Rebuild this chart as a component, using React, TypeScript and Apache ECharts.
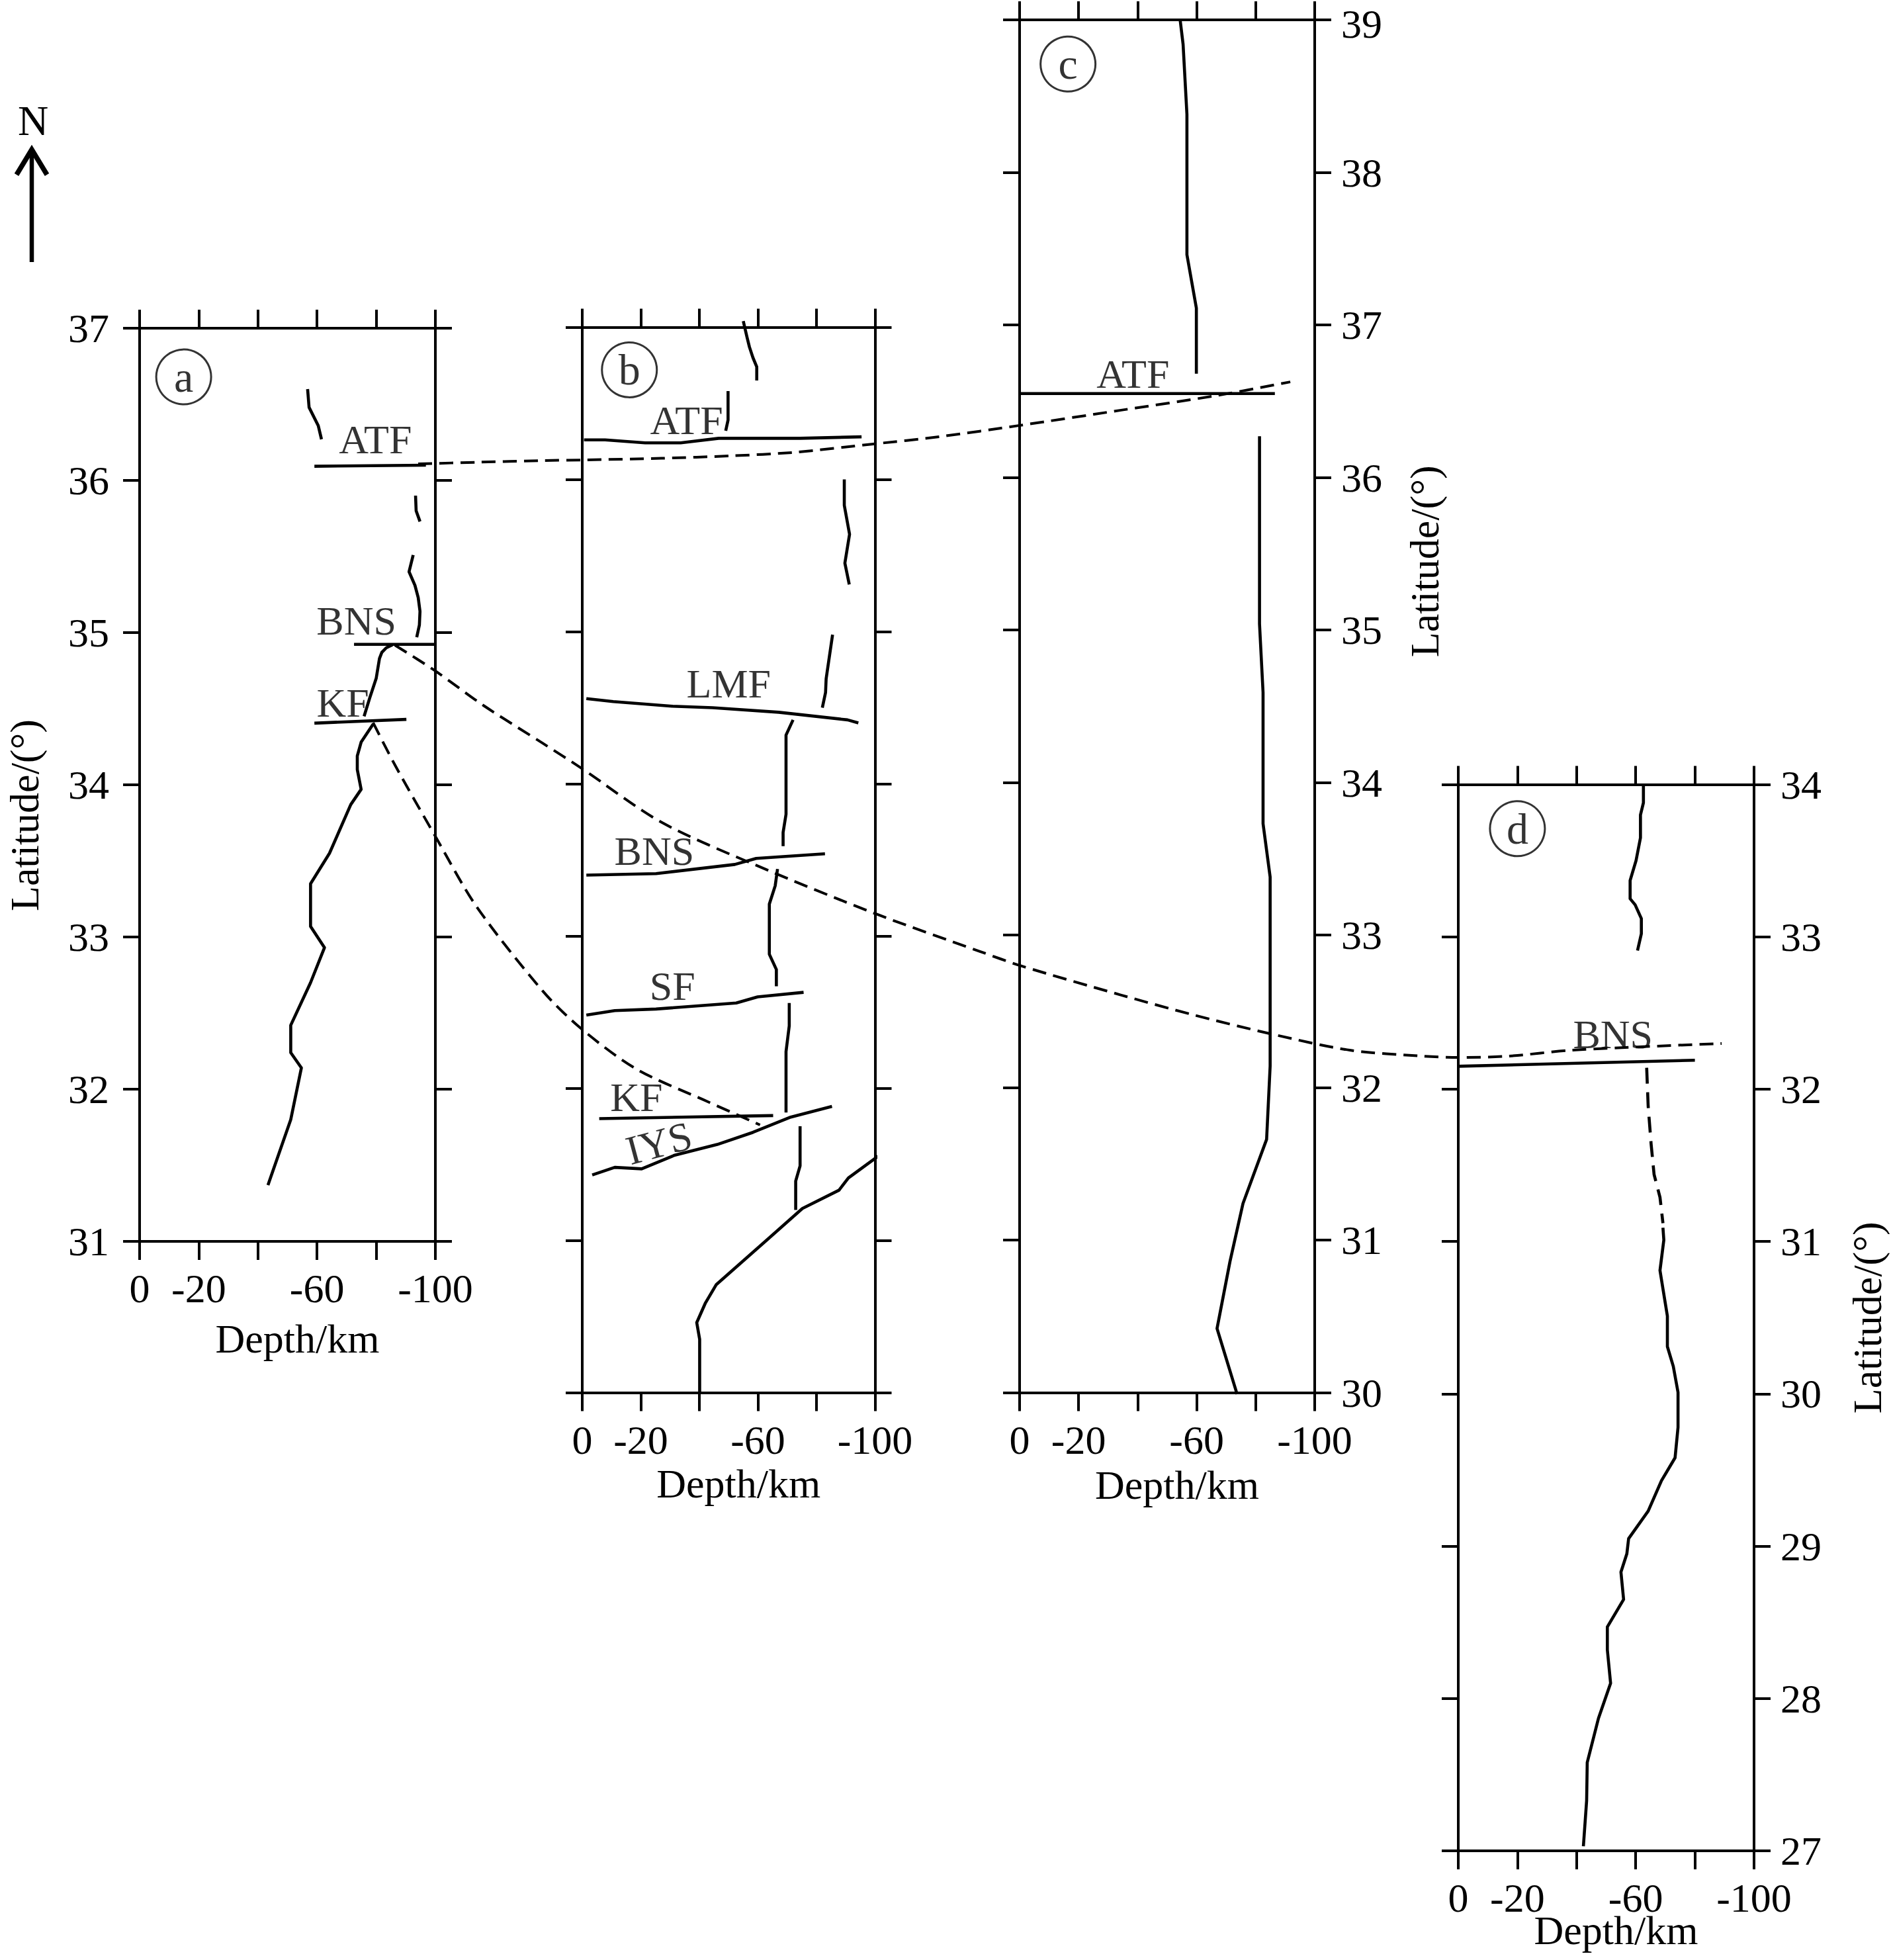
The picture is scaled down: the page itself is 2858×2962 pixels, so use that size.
import React, { useEffect, useRef } from 'react';
import * as echarts from 'echarts';

// ---------------- Data ----------------
const panelLetters = ['a', 'b', 'c', 'd'];
const latRanges: number[][] = [[31, 37], [30, 37], [30, 39], [27, 34]];
const depthAxisName = 'Depth/km';
const latAxisName = 'Latitude/(°)';
const hiddenDepthLabels = [-40, -80];
const letterPositions: number[][] = [[-14.9, 36.68], [-16.1, 36.72], [-16.4, 38.71], [-20.0, 33.71]];

// Panel a  [depth km, latitude]
const mohoA1 = [[-43.4, 31.37], [-51.1, 31.8], [-54.7, 32.14], [-51.1, 32.24], [-51.1, 32.42], [-57.8, 32.7], [-62.5, 32.93], [-57.8, 33.07], [-57.8, 33.35], [-64.2, 33.55], [-71.4, 33.87], [-74.9, 33.97], [-73.6, 34.1], [-73.6, 34.19], [-74.9, 34.28], [-79.0, 34.4]];
const mohoA2 = [[-75.9, 34.45], [-77.8, 34.57], [-80.0, 34.7], [-81.1, 34.83], [-81.9, 34.87], [-83.4, 34.9], [-85.5, 34.92]];
const mohoA3 = [[-56.8, 36.6], [-57.3, 36.48], [-60.4, 36.36], [-61.5, 36.27]];
const mohoA4 = [[-93.3, 35.9], [-93.5, 35.8], [-94.8, 35.73]];
const mohoA5 = [[-92.5, 35.51], [-91.1, 35.4], [-93.1, 35.31], [-94.2, 35.23], [-94.8, 35.14], [-94.6, 35.05], [-93.7, 34.97]];
const atfA = [[-59.1, 36.093], [-96.8, 36.1]];
const bnsA = [[-72.5, 34.923], [-100, 34.923]];
const kfA = [[-59.1, 34.405], [-90.2, 34.43]];
const faultLabelsA = [
  { name: 'ATF', value: [-79.7, 36.27] },
  { name: 'BNS', value: [-73.3, 35.08] },
  { name: 'KF', value: [-68.7, 34.54] },
];

// Panel b
const mohoB1 = [[-55.0, 37.04], [-56.2, 36.94], [-57.1, 36.87], [-58.3, 36.8], [-59.6, 36.74], [-59.6, 36.65]];
const mohoB2 = [[-49.8, 36.58], [-49.8, 36.39], [-49.0, 36.32]];
const mohoB3 = [[-89.5, 36.0], [-89.5, 35.83], [-91.3, 35.64], [-89.7, 35.45], [-91.2, 35.31]];
const mohoB4 = [[-85.5, 34.98], [-83.3, 34.69], [-83.1, 34.6], [-82.0, 34.5]];
const mohoB5 = [[-72.0, 34.42], [-69.6, 34.32], [-69.6, 33.8], [-68.6, 33.68], [-68.6, 33.59]];
const mohoB6 = [[-66.7, 33.44], [-65.9, 33.33], [-63.9, 33.21], [-63.9, 32.88], [-66.3, 32.78], [-66.3, 32.67]];
const mohoB7 = [[-70.7, 32.56], [-70.7, 32.41], [-69.6, 32.24], [-69.6, 31.84]];
const mohoB8 = [[-74.4, 31.75], [-74.4, 31.49], [-72.9, 31.39], [-72.9, 31.2]];
const mohoB9 = [[-40.1, 30.0], [-40.1, 30.35], [-39.1, 30.46], [-42.1, 30.59], [-45.8, 30.71], [-62.9, 31.0], [-75.2, 31.21], [-87.7, 31.33], [-90.9, 31.41], [-99.4, 31.53], [-102.2, 31.57]];
const atfB = [[-0.6, 36.26], [-7.8, 36.26], [-21.5, 36.24], [-33.6, 36.24], [-46.6, 36.27], [-74.4, 36.27], [-95.4, 36.28]];
const lmfB = [[-1.4, 34.56], [-10.6, 34.54], [-30.7, 34.51], [-44.5, 34.5], [-67.1, 34.47], [-90.6, 34.42], [-94.3, 34.4]];
const bnsB = [[-1.4, 33.4], [-25.2, 33.41], [-52.1, 33.47], [-59.4, 33.51], [-82.9, 33.54]];
const sfB = [[-1.4, 32.48], [-11.1, 32.51], [-25.2, 32.52], [-52.6, 32.56], [-59.9, 32.6], [-75.6, 32.63]];
const kfB = [[-5.8, 31.8], [-65.2, 31.82]];
const iysB = [[-3.4, 31.43], [-11.1, 31.48], [-20.3, 31.47], [-31.6, 31.56], [-46.1, 31.63], [-58.3, 31.71], [-71.2, 31.81], [-85.3, 31.88]];
const faultLabelsB = [
  { name: 'ATF', value: [-35.6, 36.39] },
  { name: 'LMF', value: [-50.0, 34.66] },
  { name: 'BNS', value: [-24.6, 33.56] },
  { name: 'SF', value: [-30.8, 32.67] },
  { name: 'KF', value: [-18.5, 31.94] },
  { name: 'IYS', value: [-26.2, 31.64], label: { rotate: 15 } },
];

// Panel c
const mohoC1 = [[-54.4, 39.0], [-55.4, 38.84], [-56.7, 38.38], [-56.7, 37.46], [-59.9, 37.11], [-59.9, 36.68]];
const mohoC2 = [[-81.3, 36.27], [-81.3, 35.04], [-82.5, 34.59], [-82.5, 33.73], [-84.9, 33.38], [-84.9, 32.14], [-83.7, 31.66], [-75.7, 31.24], [-71.3, 30.86], [-66.9, 30.42], [-73.7, 29.99]];
const atfC = [[0, 36.55], [-86.5, 36.55]];
const faultLabelsC = [{ name: 'ATF', value: [-38.4, 36.68] }];

// Panel d
const mohoD1 = [[-62.6, 33.99], [-62.6, 33.88], [-61.6, 33.8], [-61.6, 33.65], [-60.1, 33.5], [-58.1, 33.37], [-58.1, 33.25], [-59.8, 33.21], [-61.9, 33.12], [-61.9, 33.02], [-60.6, 32.91]];
const mohoDDashed = [[-63.7, 32.14], [-64.2, 31.89], [-65.2, 31.64], [-66.2, 31.44], [-68.2, 31.29], [-69.2, 31.12]];
const mohoD2 = [[-69.2, 31.09], [-69.5, 31.01], [-68.2, 30.81], [-69.2, 30.69], [-70.7, 30.51], [-70.7, 30.31], [-72.7, 30.18], [-74.3, 30.01], [-74.3, 29.78], [-73.3, 29.58], [-68.7, 29.43], [-64.2, 29.23], [-57.6, 29.05], [-57.0, 28.95], [-55.0, 28.83], [-55.9, 28.65], [-50.4, 28.47], [-50.4, 28.32], [-51.5, 28.1], [-47.4, 27.87], [-43.6, 27.58], [-43.4, 27.33], [-42.3, 27.03]];
const bnsD = [[0, 32.15], [-80, 32.19]];
const faultLabelsD = [{ name: 'BNS', value: [-52.3, 32.36] }];

// Correlation (dashed) curves across panels: [distance across figure in depth units, latitude]
const dashATF = [[94.5, 36.104], [114.3, 36.115], [136.7, 36.126], [150.2, 36.13], [177.2, 36.141], [200.8, 36.157], [222.2, 36.18], [249.1, 36.235], [271.6, 36.283], [298.8, 36.357], [333.2, 36.457], [365.3, 36.552], [390.7, 36.643]];
const dashBNS = [[86.6, 34.913], [100.0, 34.748], [116.9, 34.514], [136.7, 34.27], [150.0, 34.104], [176.9, 33.752], [208.9, 33.47], [249.9, 33.148], [285.1, 32.902], [299.1, 32.807], [333.1, 32.615], [357.2, 32.487], [383.7, 32.361], [410.9, 32.252], [435.6, 32.213], [447.8, 32.204], [464.9, 32.213], [486.4, 32.252], [537.2, 32.296]];
const dashKF = [[79.2, 34.404], [86.6, 34.126], [100.6, 33.648], [114.3, 33.196], [136.7, 32.643], [150.0, 32.391], [168.8, 32.126], [192.9, 31.913], [210.6, 31.761]];

// ---------------- Layout ----------------
const FONT = '"Liberation Serif", "Times New Roman", serif';
const W = 2858;
const H = 2962;
const grids = [
  { left: 211, top: 496, width: 447, height: 1380 },
  { left: 880, top: 494.5, width: 442.5, height: 1610 },
  { left: 1541, top: 30, width: 446, height: 2074.5 },
  { left: 2204, top: 1185.5, width: 447, height: 1611.5 },
];
const depthNameGaps = [124, 108, 116, 0];
const overlayX = { min: -211.5 / 4.45, max: (W - 211.5) / 4.45 };
const overlayY = { min: 37 - (H - 495) / 230, max: 37 + 495 / 230 };
const AXIS_W = 4;
const CURVE_W = 4.6;

function xAxisFor(i: number, position: 'top' | 'bottom') {
  const bottom = position === 'bottom';
  // panel d's axis title sits at the page's bottom edge; it is drawn as a graphic text below
  const showName = bottom && i !== 3;
  return {
    gridIndex: i,
    type: 'value',
    position,
    min: -100,
    max: 0,
    interval: 20,
    inverse: true,
    axisLine: { show: true, onZero: false, lineStyle: { color: '#000', width: AXIS_W } },
    axisTick: { show: true, inside: false, length: 28, lineStyle: { color: '#000', width: AXIS_W } },
    axisLabel: {
      show: bottom,
      margin: 50,
      lineHeight: 42,
      fontSize: 62,
      fontFamily: FONT,
      color: '#000',
      showMinLabel: true,
      showMaxLabel: true,
      formatter: (v: number) => (hiddenDepthLabels.includes(v) ? '' : String(v)),
    },
    splitLine: { show: false },
    name: showName ? depthAxisName : '',
    nameLocation: 'middle',
    nameGap: depthNameGaps[i],
    nameTextStyle: { fontSize: 62, lineHeight: 46, fontFamily: FONT, color: '#000', padding: [0, 0, 0, 30] },
  };
}

function yAxisFor(i: number, position: 'left' | 'right', showLabel: boolean, nameCfg?: { gap: number; padding: number[] }) {
  const [mn, mx] = latRanges[i];
  const topEdge = i === 2;
  return {
    gridIndex: i,
    type: 'value',
    position,
    min: mn,
    max: mx,
    interval: 1,
    axisLine: { show: true, onZero: false, lineStyle: { color: '#000', width: AXIS_W } },
    axisTick: { show: true, inside: false, length: 25, lineStyle: { color: '#000', width: AXIS_W } },
    axisLabel: {
      show: showLabel,
      margin: position === 'left' ? 46 : 40,
      fontSize: 62,
      lineHeight: 46,
      fontFamily: FONT,
      color: '#000',
      formatter: (v: number) => (topEdge && v === mx ? `{edge|${v}}` : String(v)),
      rich: {
        edge: { fontSize: 62, fontFamily: FONT, color: '#000', lineHeight: 46, padding: [12, 0, 0, 0] },
      },
    },
    splitLine: { show: false },
    name: nameCfg ? latAxisName : '',
    nameLocation: 'middle',
    nameRotate: 90,
    nameGap: nameCfg ? nameCfg.gap : 0,
    nameTextStyle: { fontSize: 62, fontFamily: FONT, color: '#000', padding: nameCfg ? nameCfg.padding : 0 },
  };
}

function line(data: number[][], axis: number, dash?: number[], width = CURVE_W, smooth: number | boolean = false) {
  return {
    type: 'line',
    xAxisIndex: axis,
    yAxisIndex: axis,
    data,
    showSymbol: false,
    symbol: 'none',
    smooth,
    clip: false,
    silent: true,
    lineStyle: { color: '#000', width, type: dash ? dash : 'solid', cap: 'butt', join: 'round' },
    z: 3,
  };
}

function labels(data: any[], panel: number) {
  return {
    type: 'scatter',
    xAxisIndex: panel * 2,
    yAxisIndex: panel * 2,
    data,
    symbolSize: 1,
    itemStyle: { color: 'rgba(0,0,0,0)' },
    silent: true,
    clip: false,
    z: 5,
    label: {
      show: true,
      position: 'inside',
      formatter: (p: any) => p.name,
      fontSize: 62,
      fontFamily: FONT,
      color: '#000',
      textBorderWidth: 0,
      textShadowBlur: 0,
    },
  };
}

function letterCircle(panel: number) {
  return {
    type: 'scatter',
    xAxisIndex: panel * 2,
    yAxisIndex: panel * 2,
    data: [{ name: panelLetters[panel], value: letterPositions[panel] }],
    symbol: 'circle',
    symbolSize: 83,
    itemStyle: { color: 'rgba(0,0,0,0)', borderColor: '#000', borderWidth: 3 },
    silent: true,
    z: 5,
    label: {
      show: true,
      position: 'inside',
      formatter: (p: any) => p.name,
      fontSize: 66,
      fontFamily: FONT,
      color: '#000',
      textBorderWidth: 0,
    },
  };
}

function buildOption() {
  const xAxes: any[] = [];
  const yAxes: any[] = [];
  for (let i = 0; i < 4; i++) {
    xAxes.push(xAxisFor(i, 'bottom'));
    xAxes.push(xAxisFor(i, 'top'));
  }
  yAxes.push(yAxisFor(0, 'left', true, { gap: 143, padding: [0, 92, 0, 0] }));
  yAxes.push(yAxisFor(0, 'right', false));
  yAxes.push(yAxisFor(1, 'left', false));
  yAxes.push(yAxisFor(1, 'right', false));
  yAxes.push(yAxisFor(2, 'left', false));
  yAxes.push(yAxisFor(2, 'right', true, { gap: 135, padding: [0, 0, 0, 438] }));
  yAxes.push(yAxisFor(3, 'left', false));
  yAxes.push(yAxisFor(3, 'right', true, { gap: 140, padding: [0, 0, 0, 0] }));
  // overlay
  xAxes.push({ gridIndex: 4, type: 'value', min: overlayX.min, max: overlayX.max, show: false });
  yAxes.push({ gridIndex: 4, type: 'value', min: overlayY.min, max: overlayY.max, show: false });

  const ov = 8;
  const dashCorr = [21, 11];
  const series: any[] = [
    // panel a
    line(mohoA1, 0), line(mohoA2, 0), line(mohoA3, 0), line(mohoA4, 0), line(mohoA5, 0),
    line(atfA, 0), line(bnsA, 0), line(kfA, 0),
    labels(faultLabelsA, 0), letterCircle(0),
    // panel b
    line(mohoB1, 2), line(mohoB2, 2), line(mohoB3, 2), line(mohoB4, 2), line(mohoB5, 2),
    line(mohoB6, 2), line(mohoB7, 2), line(mohoB8, 2), line(mohoB9, 2),
    line(atfB, 2), line(lmfB, 2), line(bnsB, 2), line(sfB, 2), line(kfB, 2), line(iysB, 2),
    labels(faultLabelsB, 1), letterCircle(1),
    // panel c
    line(mohoC1, 4), line(mohoC2, 4), line(atfC, 4),
    labels(faultLabelsC, 2), letterCircle(2),
    // panel d
    line(mohoD1, 6), line(mohoDDashed, 6, [24, 13]), line(mohoD2, 6), line(bnsD, 6),
    labels(faultLabelsD, 3), letterCircle(3),
    // correlation curves
    line(dashATF, ov, dashCorr, 4, 0.3),
    line(dashBNS, ov, dashCorr, 4, 0.3),
    line(dashKF, ov, dashCorr, 4, 0.3),
  ];

  const dGrid = grids[3];
  return {
    animation: false,
    backgroundColor: '#fff',
    textStyle: { fontFamily: FONT, color: '#000' },
    grid: [
      ...grids.map((g) => ({ ...g, containLabel: false, outerBoundsMode: 'none' })),
      { left: 0, top: 0, width: W, height: H, containLabel: false, outerBoundsMode: 'none' },
    ],
    xAxis: xAxes,
    yAxis: yAxes,
    series,
    graphic: [
      { type: 'text', left: 27, top: 150, style: { text: 'N', font: `64px ${FONT}`, fill: '#000' } },
      { type: 'line', shape: { x1: 48, y1: 396, x2: 48, y2: 228 }, style: { stroke: '#000', lineWidth: 6.5 } },
      { type: 'polyline', shape: { points: [[25, 264], [48, 226], [71, 264]] }, style: { stroke: '#000', lineWidth: 7.5, fill: null } },
      {
        type: 'text',
        x: dGrid.left + dGrid.width / 2 + 15,
        y: dGrid.top + dGrid.height + 120,
        style: { text: depthAxisName, font: `62px ${FONT}`, fill: '#000', align: 'center', verticalAlign: 'middle' },
      },
    ],
  };
}

export default function App() {
  const ref = useRef<HTMLDivElement>(null);
  useEffect(() => {
    if (!ref.current) return;
    const chart = echarts.init(ref.current, null, { renderer: 'svg' });
    chart.setOption(buildOption() as any);
    return () => chart.dispose();
  }, []);
  return (
    <div
      ref={ref}
      style={{ position: 'absolute', left: 0, top: 0, width: W, height: H, background: '#fff' }}
    />
  );
}
